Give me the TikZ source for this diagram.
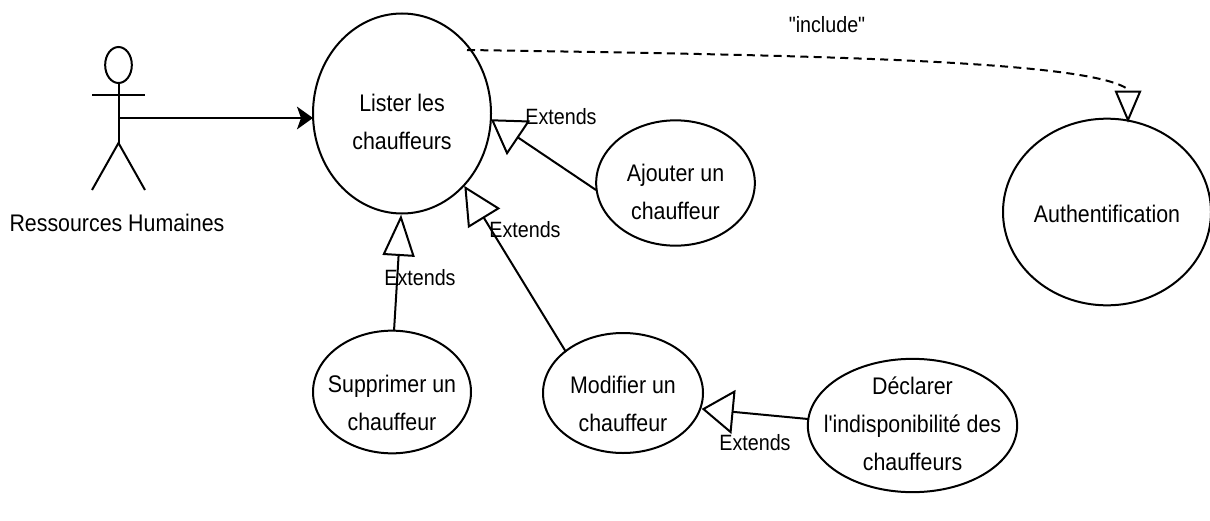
\documentclass[tikz,border=0pt]{standalone}
\usepackage{fontspec}
\setmainfont[FakeStretch=0.89,Ligatures=TeXOff]{Liberation Sans}
\usetikzlibrary{shapes.geometric,arrows.meta}
\newcommand{\ucl}[2]{\makebox[0pt]{\raisebox{#1}[0pt][0pt]{\begin{tabular}[c]{@{}c@{}}#2\end{tabular}}}}
\tikzset{
  x=0.75pt,y=-0.75pt,
  every node/.style={font=\fontsize{18}{28.5}\selectfont,align=center,inner sep=0pt,outer sep=0pt},
  usecase/.style={draw,ellipse,line width=1.5pt,fill=white,minimum width=#1},
  ln/.style={line width=1.5pt,black},
  openarrow/.style 2 args={ln,-{Triangle[open,length=#1,width=#2,line width=1.5pt,fill=white]},shorten >=-1pt},
  txt/.style={font=\fontsize{16.6}{20}\selectfont},
}
\begin{document}
\begin{tikzpicture}
\useasboundingbox (0,0) rectangle (1210,521);
\begin{scope}
\clip (0,0) rectangle (1210,521);
\node[usecase=133.5pt,minimum height=150pt] (lister) at (402,113.5) {\ucl{-11pt}{Lister les\\chauffeurs}};
\node[usecase=119pt,minimum height=94pt] (ajouter) at (675.5,183) {\ucl{-11.5pt}{Ajouter un\\chauffeur}};
\node[usecase=156pt,minimum height=140pt] (auth) at (1107,212) {\ucl{-6.3pt}{Authentification}};
\node[usecase=118.5pt,minimum height=92pt] (suppr) at (392,392) {\ucl{-13.5pt}{Supprimer un\\chauffeur}};
\node[usecase=120pt,minimum height=90pt] (modif) at (623,393) {\ucl{-13pt}{Modifier un\\chauffeur}};
\node[usecase=157pt,minimum height=100pt] (decl) at (912.5,425.5) {\ucl{-4pt}{Déclarer\\l'indisponibilité des\\chauffeurs}};
\end{scope}
% actor
\node[draw,ellipse,line width=1.5pt,minimum width=20pt,minimum height=27pt] (head) at (118.5,65) {};
\coordinate (hip) at (118.5,143);
\coordinate (chest) at (118.5,118);
\coordinate (armL) at (92,95);
\coordinate (armR) at (145,95);
\coordinate (legL) at (92,190);
\coordinate (legR) at (145,190);
\draw[ln] (head.south) -- (hip);
\draw[ln] (armL) -- (armR);
\draw[ln] (legL) -- (hip) -- (legR);
\node (actorlabel) at (117,223) {Ressources Humaines};
\coordinate (listerW) at (313,118);
\draw[ln,-{Stealth[length=12pt,width=17pt,inset=3pt]}] (chest) -- (listerW);
% extends
\coordinate (a1) at (596,190);\coordinate (a2) at (492,120);
\draw[openarrow={25pt}{31pt}] (a1) -- (a2);
\coordinate (b1) at (394,331);\coordinate (b2) at (401,216);
\draw[openarrow={31pt}{24pt}] (b1) -- (b2);
\coordinate (c1) at (566,352);\coordinate (c2) at (465,187);
\draw[openarrow={28.5pt}{28pt}] (c1) -- (c2);
\coordinate (d1) at (808,419);\coordinate (d2) at (703,409);
\draw[openarrow={24pt}{33pt}] (d1) -- (d2);
% include
\coordinate (e1) at (467,50);\coordinate (e2) at (1128,120);
\draw[ln,dash pattern=on 6pt off 4pt] (e1) .. controls (800,55) and (1080,60) .. (1126,88);
\node[draw,line width=1.5pt,fill=white,isosceles triangle,shape border rotate=-90,isosceles triangle apex angle=46,minimum height=21pt,minimum width=18pt,anchor=apex] (inc) at (e2) {};
\node[txt] (l1) at (561,117) {Extends};
\node[txt] (l2) at (525,230) {Extends};
\node[txt] (l3) at (420,278) {Extends};
\node[txt] (l4) at (755,443) {Extends};
\node[txt] (l5) at (827,25) {"include"};
\end{tikzpicture}
\end{document}
